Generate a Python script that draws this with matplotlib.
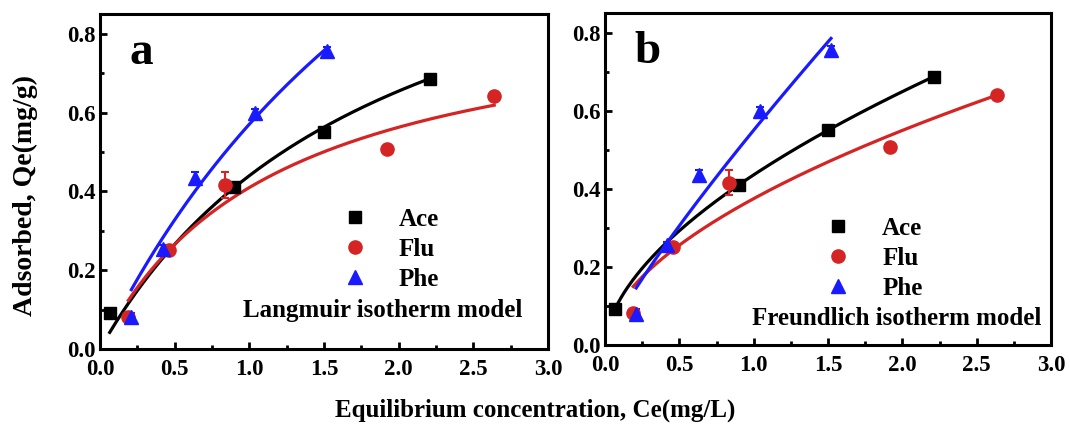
import numpy as np
import matplotlib
matplotlib.use("Agg")
import matplotlib.pyplot as plt
from matplotlib.ticker import MultipleLocator, FormatStrFormatter

plt.rcParams['font.family'] = ['Liberation Serif', 'DejaVu Serif']
plt.rcParams['font.weight'] = 'bold'

# measured isotherm data
ace_c = [0.065, 0.90, 1.50, 2.21]
ace_q = [0.092, 0.41, 0.55, 0.686]
ace_err = [0.004, 0.006, 0.008, 0.005]

flu_c = [0.19, 0.46, 0.835, 1.92, 2.64]
flu_q = [0.082, 0.25, 0.416, 0.508, 0.641]
flu_err = [0.004, 0.006, 0.032, 0.006, 0.005]

phe_c = [0.21, 0.42, 0.635, 1.04, 1.52]
phe_q = [0.08, 0.255, 0.435, 0.598, 0.755]
phe_err = [0.012, 0.008, 0.014, 0.012, 0.01]

# fitted model parameters (Ace, Flu, Phe)
lang_qm = [1.279, 0.898, 2.20]
lang_k = [0.524, 0.839, 0.35]
freu_kf = [0.4356, 0.3747, 0.55]
freu_n = [1 / 0.5745, 1 / 0.552, 1 / 0.8495]

names = ['Ace', 'Flu', 'Phe']
colors = ['black', '#d42424', '#1a1aff']
markers = ['s', 'o', '^']
msizes = [8, 9.5, 10]

series = [(ace_c, ace_q, ace_err), (flu_c, flu_q, flu_err), (phe_c, phe_q, phe_err)]


def langmuir(c, qm, k):
    return qm * k * c / (1 + k * c)


def freundlich(c, kf, n):
    return kf * c ** (1 / n)


fig = plt.figure(figsize=(10.7, 4.3), dpi=100)
ax1 = fig.add_axes([100 / 1070, 1 - 349 / 430, 448 / 1070, 335 / 430])
ax2 = fig.add_axes([605 / 1070, 1 - 345 / 430, 446 / 1070, 332 / 430])

panels = [(ax1, 'a', 'Langmuir isotherm model', (1.50, 0.39), (0.96, 0.097)),
          (ax2, 'b', 'Freundlich isotherm model', (1.36, 0.36), (0.99, 0.068))]

for idx, (ax, letter, model, leg_pos, txt_pos) in enumerate(panels):
    handles = []
    for i, (c, q, e) in enumerate(series):
        c = np.array(c)
        xs = np.linspace(c.min(), c.max(), 200)
        if idx == 0:
            ys = langmuir(xs, lang_qm[i], lang_k[i])
        else:
            ys = freundlich(xs, freu_kf[i], freu_n[i])
        ax.plot(xs, ys, color=colors[i], lw=2.3, zorder=2)
        ax.errorbar(c, q, yerr=e, fmt='none', ecolor=colors[i], elinewidth=1.5,
                    capsize=3, capthick=1.5, zorder=3)
        h, = ax.plot(c, q, linestyle='none', marker=markers[i], ms=msizes[i],
                     color=colors[i], zorder=4, label=names[i])
        handles.append(h)

    ax.set_xlim(0, 3.0)
    ax.set_ylim(0, 0.85)
    ax.xaxis.set_major_locator(MultipleLocator(0.5))
    ax.xaxis.set_minor_locator(MultipleLocator(0.25))
    ax.yaxis.set_major_locator(MultipleLocator(0.2))
    ax.yaxis.set_minor_locator(MultipleLocator(0.1))
    ax.tick_params(which='both', direction='in', width=2, labelsize=16.5,
                   top=False, right=False)
    ax.tick_params(which='major', length=5)
    ax.tick_params(which='minor', length=3)
    ax.tick_params(axis='y', pad=3)
    ax.tick_params(axis='x', pad=7)
    ax.xaxis.set_major_formatter(FormatStrFormatter('%.1f'))
    ax.yaxis.set_major_formatter(FormatStrFormatter('%.1f'))
    for lab in ax.get_xticklabels() + ax.get_yticklabels():
        lab.set_fontweight('bold')
    for sp in ax.spines.values():
        sp.set_linewidth(2.2)

    ax.text(0.2, 0.75, letter, fontsize=34, fontweight='bold', va='center')
    ax.text(txt_pos[0], txt_pos[1], model, fontsize=18, fontweight='bold', va='center')
    ax.legend(handles=handles, loc='upper left', bbox_to_anchor=leg_pos,
              bbox_transform=ax.transData, frameon=False, fontsize=18,
              handletextpad=1.0, labelspacing=0.28, borderpad=0, handlelength=1.5)

fig.text(25 / 1070, 1 - 195 / 430, 'Adsorbed, Qe(mg/g)', rotation=90, fontsize=20,
         fontweight='bold', ha='center', va='center')
fig.text(535 / 1070, 1 - 410 / 430, 'Equilibrium concentration, Ce(mg/L)', fontsize=18,
         fontweight='bold', ha='center', va='center')

fig.savefig('out.png', dpi=100)
